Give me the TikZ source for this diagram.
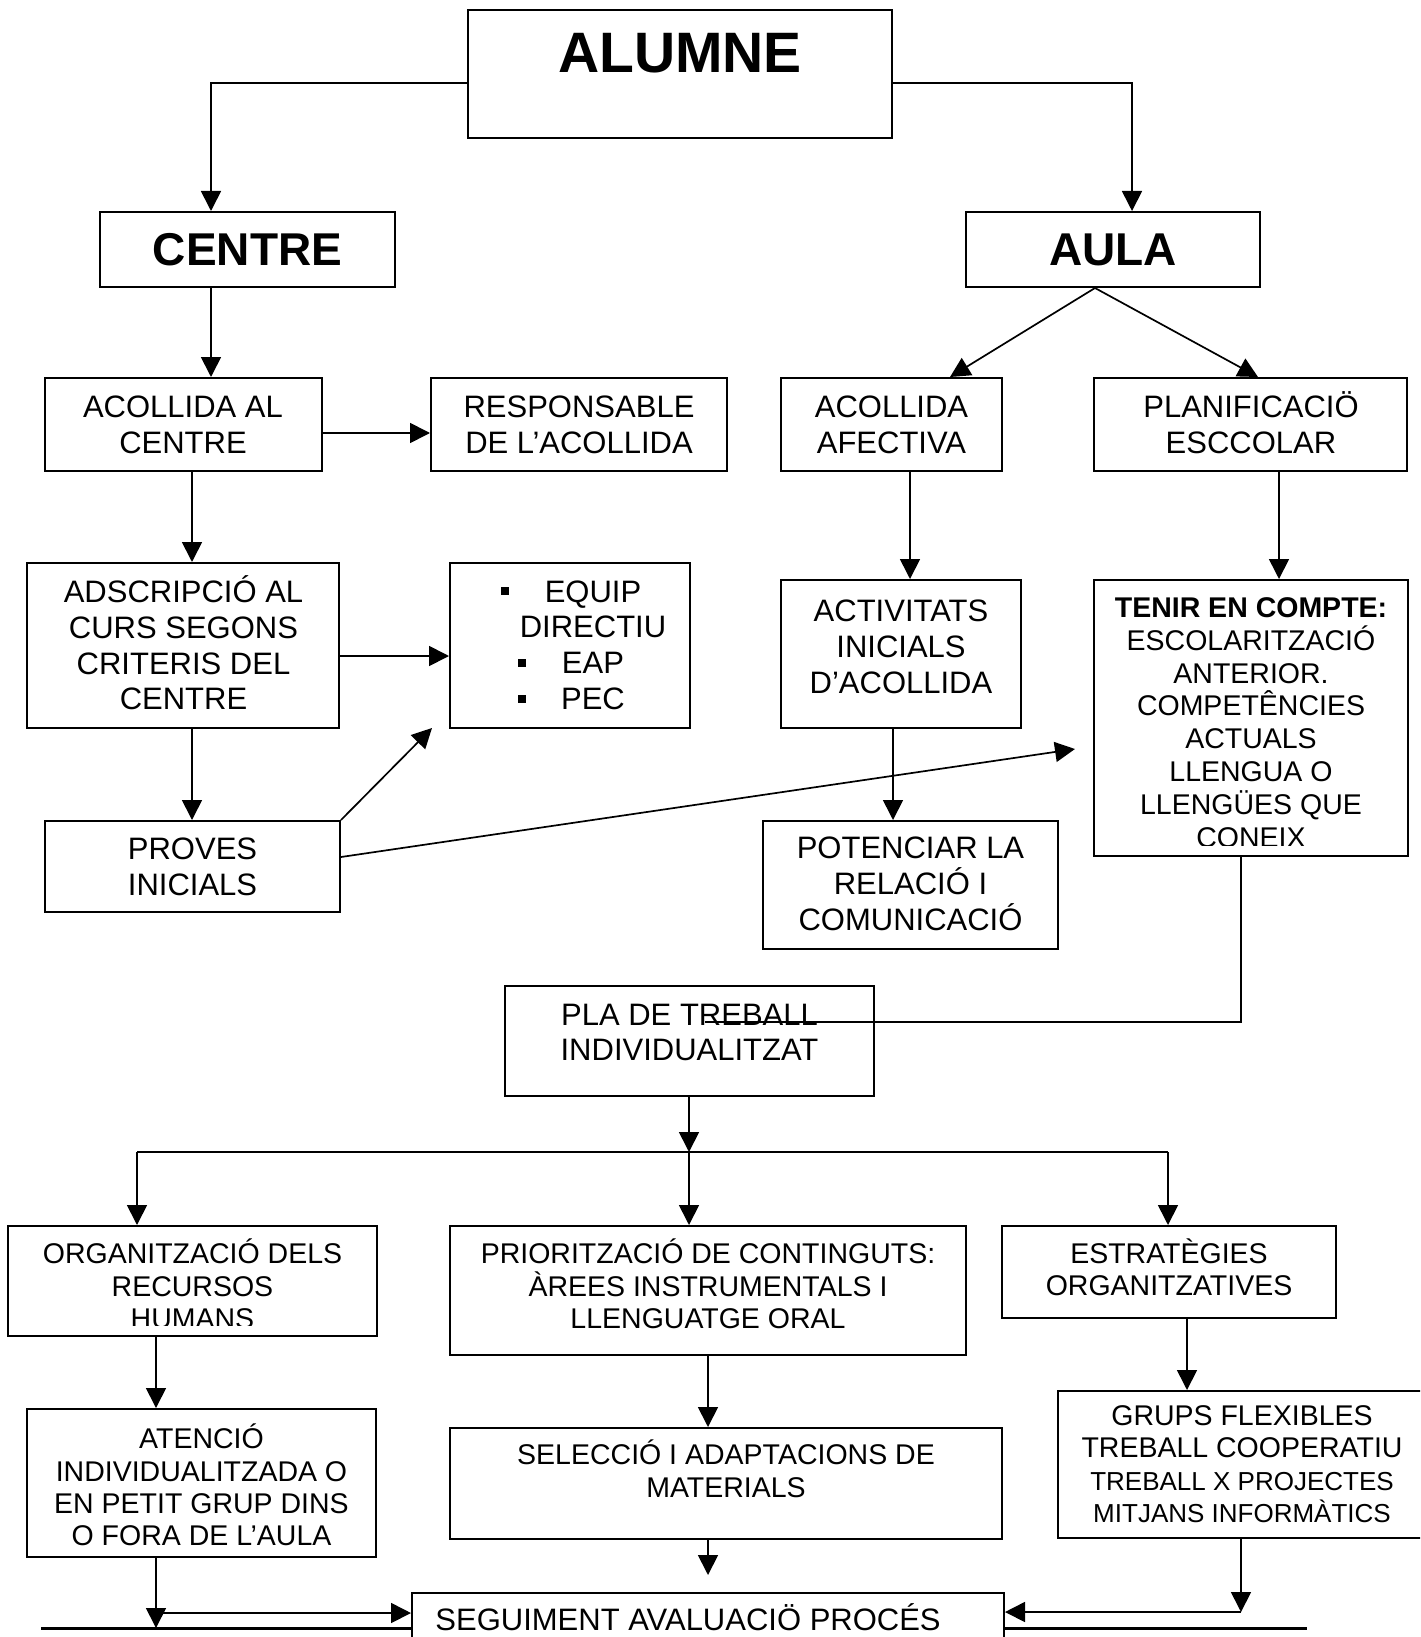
\documentclass[tikz,border=0pt]{standalone}
\usepackage{fontspec}
\setmainfont{Liberation Sans}
\usetikzlibrary{arrows.meta}
\begin{document}
\begin{tikzpicture}[x=0.5pt,y=-0.5pt,
  box/.style={draw, line width=1pt, fill=white, inner sep=0pt},
  txt/.style={inner sep=0pt, align=center, font=\fontsize{15.5}{17.85}\selectfont},
  stxt/.style={inner sep=0pt, align=center, font=\fontsize{14.25}{16.2}\selectfont},
  conn/.style={line width=0.85pt},
  arr/.style={conn, -{Triangle[length=10pt,width=10pt]}},
]
\useasboundingbox (0,0) rectangle (1420,1637);
\fill[white] (0,0) rectangle (1420,1637);
\clip (0,0) rectangle (1420,1637);

% bottom rule
\coordinate (bl) at (41,1628);
\coordinate (br) at (1307,1628);
\draw[line width=1.5pt] (bl) -- (br);

% boxes
\node[box, minimum width=212pt, minimum height=64pt] (alumne) at (680,74) {};
\node[box, minimum width=147.5pt, minimum height=37.5pt] (centre) at (247.5,249.5) {};
\node[box, minimum width=147pt, minimum height=37.5pt] (aula) at (1113,249.5) {};
\node[box, minimum width=138.5pt, minimum height=46.5pt] (accentre) at (183.5,424.5) {};
\node[box, minimum width=148pt, minimum height=46.5pt] (resp) at (579,424.5) {};
\node[box, minimum width=110.5pt, minimum height=46.5pt] (afect) at (891.5,424.5) {};
\node[box, minimum width=156.5pt, minimum height=46.5pt] (planif) at (1250.5,424.5) {};
\node[box, minimum width=156pt, minimum height=82.5pt] (adscr) at (183,645.5) {};
\node[box, minimum width=120pt, minimum height=82.5pt] (equip) at (570,645.5) {};
\node[box, minimum width=147.5pt, minimum height=45.5pt] (proves) at (192.5,866.5) {};
\node[box, minimum width=120pt, minimum height=74pt] (activ) at (901,654) {};
\node[box, minimum width=147.5pt, minimum height=64pt] (potenc) at (910.5,885) {};
\node[box, minimum width=157pt, minimum height=138pt] (tenir) at (1251,718) {};
\node[box, minimum width=184.5pt, minimum height=55pt] (pla) at (689.5,1041) {};
\node[box, minimum width=184.5pt, minimum height=55pt] (organ) at (192.5,1281) {};
\node[box, minimum width=258pt, minimum height=64.5pt] (prior) at (708,1290.5) {};
\node[box, minimum width=167pt, minimum height=46pt] (estrat) at (1169,1272) {};
\node[box, minimum width=174.5pt, minimum height=74pt] (atenc) at (201.5,1483) {};
\node[box, minimum width=276pt, minimum height=55.5pt] (selecc) at (726,1483.5) {};
\node[box, minimum width=183.5pt, minimum height=73.5pt] (grups) at (1241.5,1464.5) {};
\node[box, minimum width=296pt, minimum height=33.5pt] (seguim) at (708,1626.5) {};

% texts
\node[inner sep=0pt, font=\fontsize{28.5}{34}\selectfont\bfseries] (alumneT) at (680,53) {ALUMNE};
\node[inner sep=0pt, font=\fontsize{23}{28}\selectfont\bfseries] (centreT) at (247.5,249.5) {CENTRE};
\node[inner sep=0pt, font=\fontsize{23}{28}\selectfont\bfseries] (aulaT) at (1113,249.5) {AULA};
\node[txt] (accentreT) at (183,425) {ACOLLIDA AL\\CENTRE};
\node[txt] (respT) at (579,425) {RESPONSABLE\\DE L’ACOLLIDA};
\node[txt] (afectT) at (891.5,425) {ACOLLIDA\\AFECTIVA};
\node[txt] (planifT) at (1251,423) {PLANIFICACIÖ\\ESCCOLAR};
\node[txt] (adscrT) at (183.5,643) {ADSCRIPCIÓ AL\\CURS SEGONS\\CRITERIS DEL\\CENTRE};
\node[txt] (equipT) at (593,645) {EQUIP\\DIRECTIU\\EAP\\PEC};
\fill (501,587) rectangle (509,595);
\fill (518,659) rectangle (526,667);
\fill (518,694.5) rectangle (526,702.5);
\node[txt] (provesT) at (192.5,866.5) {PROVES\\INICIALS};
\node[txt] (activT) at (901,647) {ACTIVITATS\\INICIALS\\D’ACOLLIDA};
\node[txt] (potencT) at (910.5,884) {POTENCIAR LA\\RELACIÓ I\\COMUNICACIÓ};
\begin{scope}
  \clip (1094,580) rectangle (1408,845);
  \node[inner sep=0pt, align=center, font=\fontsize{14.25}{16.4}\selectfont] (tenirT) at (1251,722.5)
   {\textbf{TENIR EN COMPTE:}\\ESCOLARITZACIÓ\\ANTERIOR.\\COMPETÊNCIES\\ACTUALS\\LLENGUA O\\LLENGÜES QUE\\CONEIX};
\end{scope}
\node[txt] (plaT) at (689.5,1032.5) {PLA DE TREBALL\\INDIVIDUALITZAT};
\begin{scope}
  \clip (8,1226) rectangle (377,1325);
  \node[stxt] (organT) at (192.5,1284) {ORGANITZACIÓ DELS\\RECURSOS\\HUMANS};
\end{scope}
\node[stxt] (priorT) at (708,1284) {PRIORITZACIÓ DE CONTINGUTS:\\ÀREES INSTRUMENTALS I\\LLENGUATGE ORAL};
\node[stxt] (estratT) at (1169,1267) {ESTRATÈGIES\\ORGANITZATIVES};
\node[stxt] (atencT) at (201.5,1485) {ATENCIÓ\\INDIVIDUALITZADA O\\EN PETIT GRUP DINS\\O FORA DE L’AULA};
\node[inner sep=0pt, align=center, font=\fontsize{14.25}{16.75}\selectfont] (seleccT) at (726,1469) {SELECCIÓ I ADAPTACIONS DE\\MATERIALS};
\node[stxt] (grupsT) at (1242,1464) {GRUPS FLEXIBLES\\TREBALL COOPERATIU\\{\fontsize{13}{15}\selectfont TREBALL X PROJECTES}\\{\fontsize{13}{15}\selectfont MITJANS INFORMÀTICS}};
\node[inner sep=0pt, anchor=base west, font=\fontsize{15.5}{17.85}\selectfont] (seguimT) at (435,1630) {SEGUIMENT AVALUACIÖ PROCÉS};

% connectors
\coordinate (r1) at (211,83);
\coordinate (r2) at (1132,83);
\draw[arr] (alumne.west |- r1) -| (centre.north -| r1);
\draw[arr] (alumne.east |- r2) -| (aula.north -| r2);
\draw[arr] (centre.south -| r1) -- (accentre.north -| r1);
\coordinate (r3) at (0,433);
\draw[arr] (accentre.east |- r3) -- (resp.west |- r3);
\coordinate (c192) at (192,0);
\draw[arr] (accentre.south -| c192) -- (adscr.north -| c192);
\coordinate (r4) at (0,656);
\draw[arr] (adscr.east |- r4) -- (equip.west |- r4);
\draw[arr] (adscr.south -| c192) -- (proves.north -| c192);
\coordinate (t1) at (432,728);
\draw[arr] (proves.north east) -- (t1);
\coordinate (r5) at (0,857);
\coordinate (t2) at (1075,749);
\draw[arr] (proves.east |- r5) -- (t2);
\coordinate (c1095) at (1095,0);
\coordinate (c950) at (950,0);
\coordinate (c1258) at (1258,0);
\draw[arr] (aula.south -| c1095) -- (afect.north -| c950);
\draw[arr] (aula.south -| c1095) -- (planif.north -| c1258);
\coordinate (c910) at (910,0);
\draw[arr] (afect.south -| c910) -- (activ.north -| c910);
\coordinate (c893) at (893,0);
\draw[arr] (activ.south -| c893) -- (potenc.north -| c893);
\coordinate (c1279) at (1279,0);
\draw[arr] (planif.south -| c1279) -- (tenir.north -| c1279);
\coordinate (c1241) at (1241,0);
\coordinate (t3) at (705,1022);
\draw[conn] (tenir.south -| c1241) |- (t3);
\coordinate (sl) at (137,1152);
\coordinate (sm) at (689,1152);
\coordinate (sr) at (1168,1152);
\draw[arr] (pla.south -| sm) -- (sm);
\draw[conn] (sl) -- (sr);
\draw[arr] (sl) -- (organ.north -| sl);
\draw[arr] (sm) -- (prior.north -| sm);
\draw[arr] (sr) -- (estrat.north -| sr);
\coordinate (c156) at (156,0);
\coordinate (c708) at (708,0);
\coordinate (c1187) at (1187,0);
\draw[arr] (organ.south -| c156) -- (atenc.north -| c156);
\draw[arr] (prior.south -| c708) -- (selecc.north -| c708);
\draw[arr] (estrat.south -| c1187) -- (grups.north -| c1187);
\coordinate (t4) at (708,1575);
\draw[arr] (selecc.south -| c708) -- (t4);
\coordinate (t5) at (156,1628);
\draw[arr] (atenc.south -| c156) -- (t5);
\coordinate (j1) at (156,1613);
\draw[arr] (j1) -- (seguim.west |- j1);
\coordinate (t6) at (1241,1612);
\draw[arr] (grups.south -| c1241) -- (t6);
\draw[arr] (t6) -- (seguim.east |- t6);
\end{tikzpicture}
\end{document}
